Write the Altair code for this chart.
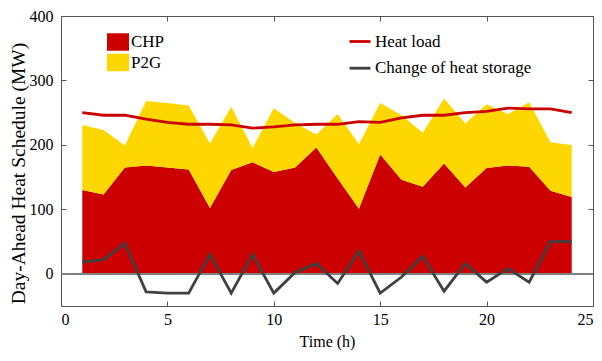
import altair as alt
import pandas as pd

hours = list(range(1, 25))
chp = [130, 123, 165, 168, 165, 162, 102, 161, 173, 158, 165, 196,
       148, 101, 185, 146, 135, 171, 134, 164, 168, 166, 129, 119]
p2g = [101, 100, 34, 100, 100, 99, 100, 98, 22, 99, 69, 20,
       100, 100, 80, 100, 84, 101, 99, 99, 80, 100, 75, 81]
heat_load = [250, 246, 246, 240, 235, 232, 232, 231, 226, 228, 231, 232,
             232, 236, 235, 242, 246, 246, 250, 252, 257, 256, 256, 250]
storage = [18, 22, 47, -28, -30, -30, 30, -30, 30, -30, 2, 16,
           -15, 35, -30, -5, 27, -27, 16, -13, 8, -13, 50, 50]

area_names = ["CHP", "P2G"]
line_names = ["Heat load", "Change of heat storage"]

area_df = pd.DataFrame(
    [{"h": h, "s": "CHP", "v": v, "o": 0} for h, v in zip(hours, chp)]
    + [{"h": h, "s": "P2G", "v": v, "o": 1} for h, v in zip(hours, p2g)]
)
line_df = pd.DataFrame(
    [{"h": h, "s": "Heat load", "v": v} for h, v in zip(hours, heat_load)]
    + [{"h": h, "s": "Change of heat storage", "v": v} for h, v in zip(hours, storage)]
)

FONT = "Liberation Serif"
xscale = alt.Scale(domain=[0, 25], nice=False)
yscale = alt.Scale(domain=[-50, 400], nice=False)

areas = alt.Chart(area_df).mark_area(interpolate="linear").encode(
    x=alt.X("h:Q", scale=xscale,
            axis=alt.Axis(orient="bottom", values=[0, 5, 10, 15, 20, 25],
                          title="Time (h)", labelPadding=5, titlePadding=6,
                          titleFontSize=16)),
    y=alt.Y("v:Q", stack="zero", scale=yscale,
            axis=alt.Axis(orient="left", values=[0, 100, 200, 300, 400],
                          title="Day-Ahead Heat Schedule (MW)",
                          labelPadding=8, titleFontSize=19.5,
                          titleAngle=270, titleBaseline="middle", titleAlign="center",
                          titleX=-48, titleY=157)),
    fill=alt.Fill("s:N", scale=alt.Scale(domain=area_names, range=["#CC0000", "#FFD700"]),
                  legend=alt.Legend(orient="none", legendX=46, legendY=15, title=None,
                                    symbolType="M-1,-0.795H1V0.795H-1Z", symbolSize=484,
                                    symbolStrokeWidth=0, labelFontSize=17,
                                    labelFont=FONT, rowPadding=0.5, labelOffset=2,
                                    padding=0)),
    order=alt.Order("o:Q"),
)

zero = alt.Chart(area_df).mark_rule(color="#808080", strokeWidth=1.5).encode(
    y=alt.datum(0, scale=yscale, axis=None),
)

lines = alt.Chart(line_df).mark_line(strokeWidth=2.8).encode(
    x=alt.X("h:Q", scale=xscale, axis=None),
    y=alt.Y("v:Q", scale=yscale, axis=None),
    stroke=alt.Stroke("s:N", scale=alt.Scale(domain=line_names, range=["#CC0000", "#404040"]),
                      sort=line_names,
                      legend=alt.Legend(orient="none", legendX=287, legendY=13.5, title=None,
                                        symbolType="stroke", symbolSize=441,
                                        symbolStrokeWidth=2.8, labelFontSize=17,
                                        labelFont=FONT, rowPadding=6.7, labelOffset=3,
                                        padding=0)),
)

frame = alt.Chart(line_df).mark_point(opacity=0).encode(
    x=alt.X("h:Q", scale=xscale,
            axis=alt.Axis(orient="top", values=[0, 5, 10, 15, 20, 25],
                          labels=False, title=None)),
    y=alt.Y("v:Q", scale=yscale,
            axis=alt.Axis(orient="right", values=[0, 100, 200, 300, 400],
                          labels=False, title=None)),
)

chart = alt.layer(areas, zero, lines, frame).resolve_axis(
    x="independent", y="independent"
).properties(
    width=532, height=290,
    autosize=alt.AutoSizeParams(type="none"),
    padding={"left": 53, "top": 8, "right": 1, "bottom": 45},
).configure(
    font=FONT
).configure_view(
    stroke="#555555", strokeWidth=1
).configure_axis(
    labelFont=FONT, labelFontSize=16, labelColor="black",
    titleFont=FONT, titleFontWeight="normal", titleColor="black",
    tickColor="#555555", tickSize=5, offset=-5, domain=False, grid=False,
).configure_legend(
    labelColor="black", labelFont=FONT
)

chart.save("out.html", embed_options={"renderer": "svg", "actions": False})
